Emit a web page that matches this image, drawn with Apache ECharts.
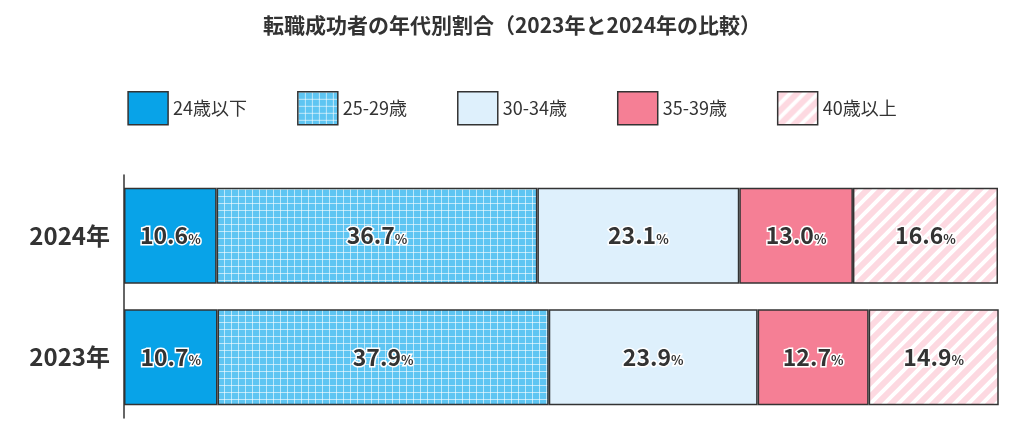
<!DOCTYPE html>
<html><head><meta charset="utf-8">
<script src="https://cdn.jsdelivr.net/npm/echarts@6/dist/echarts.min.js"></script>
<style>html,body{margin:0;padding:0;background:#fff}#c{width:1024px;height:446px}</style>
</head><body><div id="c"></div>
<script>
var years = ['2024年', '2023年'];
var groups = ['24歳以下', '25-29歳', '30-34歳', '35-39歳', '40歳以上'];
var values = [
  [10.6, 10.7],
  [36.7, 37.9],
  [23.1, 23.9],
  [13.0, 12.7],
  [16.6, 14.9]
];

function gridPattern() {
  var c = document.createElement('canvas'); c.width = 7; c.height = 7;
  var x = c.getContext('2d');
  x.fillStyle = '#5ec5f2'; x.fillRect(0, 0, 7, 7);
  x.fillStyle = 'rgba(255,255,255,0.6)';
  x.fillRect(0, 0, 7, 1); x.fillRect(0, 0, 1, 7);
  return { image: c, repeat: 'repeat' };
}
function stripePattern() {
  var c = document.createElement('canvas'); c.width = 14; c.height = 14;
  var x = c.getContext('2d');
  x.fillStyle = '#fdd9e1'; x.fillRect(0, 0, 14, 14);
  x.strokeStyle = '#ffffff'; x.lineWidth = 4;
  x.beginPath();
  x.moveTo(-2, 16); x.lineTo(16, -2);
  x.moveTo(-9, 9); x.lineTo(9, -9);
  x.moveTo(5, 23); x.lineTo(23, 5);
  x.stroke();
  return { image: c, repeat: 'repeat' };
}
var fills = ['#08a3e8', gridPattern(), '#def0fc', '#f57f95', stripePattern()];

var chart = echarts.init(document.getElementById('c'));
var series = groups.map(function (g, i) {
  return {
    name: g, type: 'bar', stack: 'a', barWidth: '79%',
    data: values[i],
    itemStyle: { color: fills[i], borderColor: '#333', borderWidth: 1.5 },
    label: {
      show: true, position: 'inside',
      formatter: function (p) { return '{v|' + p.value.toFixed(1) + '}{p|%}'; },
      rich: {
        v: { fontSize: 23, fontWeight: 'bold', color: '#333', textBorderColor: '#fff', textBorderWidth: 3, fontFamily: 'Noto Sans CJK JP' },
        p: { fontSize: 13, fontWeight: 'bold', color: '#333', textBorderColor: '#fff', textBorderWidth: 3, padding: [6, 0, 0, 0], fontFamily: 'Noto Sans CJK JP' }
      }
    }
  };
});

chart.setOption({
  animation: false,
  textStyle: { fontFamily: 'Noto Sans CJK JP' },
  title: {
    text: '転職成功者の年代別割合（2023年と2024年の比較）', left: 'center', top: 10,
    textStyle: { fontSize: 21, fontWeight: 'bold', color: '#333' }
  },
  legend: {
    top: 86, left: 'center', itemWidth: 40, itemHeight: 33, itemGap: 50,
    icon: 'rect',
    itemStyle: { borderColor: '#333', borderWidth: 1.5 },
    textStyle: { fontSize: 18, color: '#333' },
    data: groups
  },
  grid: { left: 124, right: 26, top: 175, bottom: 28 },
  xAxis: { type: 'value', min: 0, max: 100, show: false },
  yAxis: {
    type: 'category', data: years, inverse: true,
    axisLine: { lineStyle: { color: '#333', width: 1.5 } },
    axisTick: { show: false },
    axisLabel: { fontSize: 24, color: '#333', margin: 14, fontWeight: 'bold' }
  },
  series: series
});
</script></body></html>
